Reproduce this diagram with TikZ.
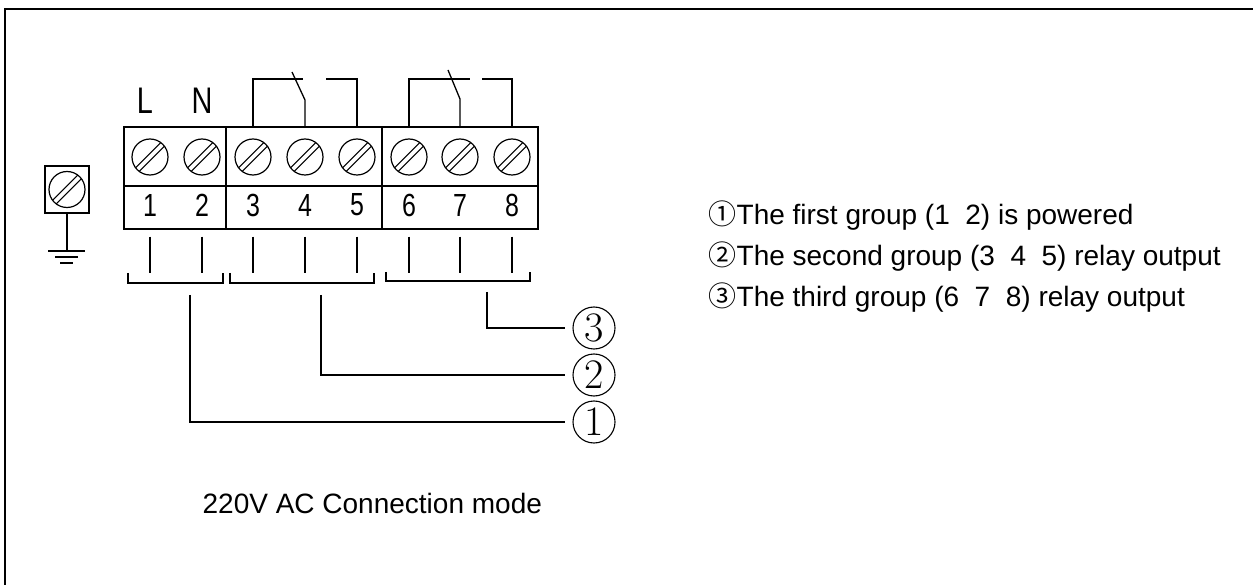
\documentclass[tikz,border=0pt]{standalone}
\usepackage{fontspec}
\setmainfont{Liberation Sans}
\newfontfamily\termfont[FakeStretch=0.78]{Liberation Sans}
\newfontfamily\cjk{Noto Sans CJK SC}
\newfontfamily\digitfont{Latin Modern Roman}
\usepackage{tikz}
\usetikzlibrary{positioning,calc}

\begin{document}
\begin{tikzpicture}[x=1pt, y=-1pt, line width=1.3pt,
    screw/.style={draw, circle, minimum size=36pt, inner sep=0pt, line width=1.2pt,
        path picture={
            \draw[line width=1pt] ([xshift=-1.8pt,yshift=1.8pt]path picture bounding box.south west) -- ([xshift=-1.8pt,yshift=1.8pt]path picture bounding box.north east);
            \draw[line width=1pt] ([xshift=1.8pt,yshift=-1.8pt]path picture bounding box.south west) -- ([xshift=1.8pt,yshift=-1.8pt]path picture bounding box.north east);}},
    termnum/.style={font=\termfont\fontsize{32}{32}\selectfont, inner sep=0pt},
    tag/.style={draw, circle, minimum size=42pt, inner sep=0pt, line width=1.1pt, font=\digitfont\fontsize{42}{42}\selectfont},
    note/.style={anchor=base west, inner sep=0pt, font=\fontsize{28}{34}\selectfont}]
    \useasboundingbox (0,0) rectangle (1253,585);

    % Frame
    \draw[line width=2pt] (5,585) -- (5,9) -- (1253,9);

    % Ground terminal
    \node[draw, minimum width=44pt, minimum height=47pt, inner sep=0pt] (gbox) at (67,189.5) {};
    \node[screw] (gs) at (gbox.center) {};
    \coordinate (gnd) at (67,251);
    \draw (gbox.south) -- (gnd);
    \draw (48,251) -- (85,251);
    \draw (55,257) -- (78,257);
    \draw (60,263) -- (73,263);

    % Terminal block
    \node[draw, minimum width=414pt, minimum height=102pt, inner sep=0pt] (block) at (331,178) {};
    \draw ([yshift=-8pt]block.west) -- ([yshift=-8pt]block.east);
    \draw (226,127) -- (226,229);
    \draw (382,127) -- (382,229);

    % Screws
    \node[screw] (s1) at (150,157) {};
    \node[screw] (s2) at (202,157) {};
    \node[screw] (s3) at (253,157) {};
    \node[screw] (s4) at (305,157) {};
    \node[screw] (s5) at (357,157) {};
    \node[screw] (s6) at (409,157) {};
    \node[screw] (s7) at (460,157) {};
    \node[screw] (s8) at (512,157) {};

    % Terminal numbers
    \node[termnum] (n1) at (150,205) {1};
    \node[termnum] (n2) at (202,205) {2};
    \node[termnum] (n3) at (253,205) {3};
    \node[termnum] (n4) at (305,205) {4};
    \node[termnum] (n5) at (357,205) {5};
    \node[termnum] (n6) at (409,205) {6};
    \node[termnum] (n7) at (460,205) {7};
    \node[termnum] (n8) at (512,205) {8};

    % L and N
    \node[font=\termfont\fontsize{37}{37}\selectfont, inner sep=0pt] (lin) at (145,101) {L};
    \node[font=\termfont\fontsize{37}{37}\selectfont, inner sep=0pt] (neu) at (202,101) {N};

    % Relay 3-4-5
    \draw (s3 |- block.north) |- (303,79);
    \draw (292,72) -- (305,100) -- (s4 |- block.north);
    \draw (326,79) -| (s5 |- block.north);

    % Relay 6-7-8
    \draw (s6 |- block.north) |- (470,79);
    \draw (448,70) -- (460,99) -- (s7 |- block.north);
    \draw (482,79) -| (s8 |- block.north);

    % Wires below the block
    \draw ([yshift=-7pt]n1 |- block.south) -- ++(0,36);
    \draw ([yshift=-7pt]n2 |- block.south) -- ++(0,36);
    \draw ([yshift=-7pt]n3 |- block.south) -- ++(0,36);
    \draw ([yshift=-7pt]n4 |- block.south) -- ++(0,36);
    \draw ([yshift=-7pt]n5 |- block.south) -- ++(0,36);
    \draw ([yshift=-7pt]n6 |- block.south) -- ++(0,36);
    \draw ([yshift=-7pt]n7 |- block.south) -- ++(0,36);
    \draw ([yshift=-7pt]n8 |- block.south) -- ++(0,36);

    % Group brackets
    \draw (128,273) |- (223,283) -- (223,273);
    \draw (230,273) |- (374,283) -- (374,273);
    \draw (386,272) |- (530,281) -- (530,272);

    % Group tags
    \node[tag] (c3) at (594,328) {3};
    \node[tag] (c2) at (594,375) {2};
    \node[tag] (c1) at (594,422) {1};
    \draw[shorten >=7pt] (487,292) |- (c3);
    \draw[shorten >=7pt] (321,295) |- (c2);
    \draw[shorten >=7pt] (190,295) |- (c1);

    % Notes
    \node[note] (t1) at (708,225) {{\cjk ①}The first group (1\ \ 2) is powered};
    \node[note] (t2) at (708,266) {{\cjk ②}The second group (3\ \ 4\ \ 5) relay output};
    \node[note] (t3) at (708,307) {{\cjk ③}The third group (6\ \ 7\ \ 8) relay output};

    \node[note] (mode) at (202,513) {220V AC Connection mode};
\end{tikzpicture}
\end{document}
